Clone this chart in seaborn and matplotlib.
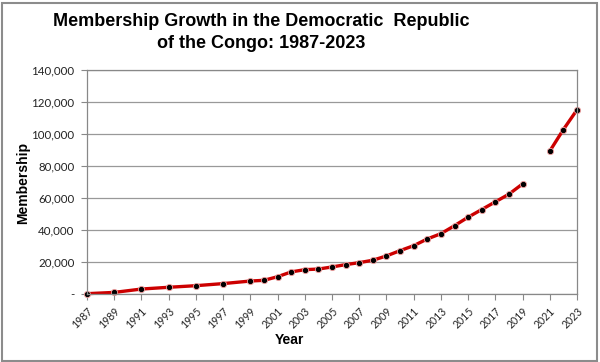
import numpy as np
import pandas as pd
import matplotlib
matplotlib.use("Agg")
import matplotlib.pyplot as plt
from matplotlib.patches import Rectangle
from matplotlib.ticker import FuncFormatter
import seaborn as sns

years = [1987, 1989, 1991, 1993, 1995, 1997, 1999, 2000, 2001, 2002, 2003,
         2004, 2005, 2006, 2007, 2008, 2009, 2010, 2011, 2012, 2013, 2014,
         2015, 2016, 2017, 2018, 2019, 2021, 2022, 2023]
members = [200, 1000, 3100, 4200, 5200, 6500, 8100, 8550, 10800, 13800, 15200,
           15600, 16900, 18350, 19600, 21100, 23800, 27100, 30200, 34400, 37700,
           42700, 48000, 52800, 57600, 62400, 68800, 89300, 102800, 115100]
segment = [0] * 27 + [1] * 3
xticks = list(range(1987, 2024, 2))
yticks = list(range(0, 140001, 20000))

df = pd.DataFrame({"Year": years, "Membership": members, "seg": segment})

sns.set_theme(style="white")
plt.rcParams['font.family'] = ['Liberation Sans', 'DejaVu Sans']

fig = plt.figure(figsize=(6, 3.62), dpi=100)
W, H = 600, 362
ax = fig.add_axes([87 / W, 1 - 294 / H, (577 - 87) / W, (294 - 70) / H])

sns.lineplot(data=df, x="Year", y="Membership", units="seg", estimator=None,
             color="#cc0000", linewidth=2.4, marker="o", markersize=4.5,
             markerfacecolor="black", markeredgecolor="#f4a0a0",
             markeredgewidth=0.6, ax=ax, legend=False, clip_on=False)

ax.set_xlim(1987, 2023)
ax.set_ylim(0, 140000)
ax.set_xticks(xticks)
ax.set_yticks(yticks)
ax.set_xticklabels([str(y) for y in xticks], rotation=45, ha="right",
                   rotation_mode="anchor", fontsize=7.6, family=['Lato', 'DejaVu Sans'])
ax.yaxis.set_major_formatter(FuncFormatter(lambda v, p: "-" if v == 0 else f"{int(v):,}"))
for lab in ax.get_yticklabels():
    lab.set_fontsize(8.3)
    lab.set_family(['Lato', 'DejaVu Sans'])
ax.tick_params(axis="both", which="major", direction="out", length=4, width=0.8,
               color="#888888", colors="#222222", bottom=True, left=True)
ax.tick_params(axis="x", pad=4)
ax.tick_params(axis="y", pad=5)
ax.grid(axis="y", color="#999999", linewidth=0.9)
ax.grid(axis="x", visible=False)
for s in ["left", "right", "bottom", "top"]:
    ax.spines[s].set_visible(True)
    ax.spines[s].set_color("#888888")
    ax.spines[s].set_linewidth(0.9)
ax.set_xlabel("")
ax.set_ylabel("")

fig.text(23 / W, 1 - 183 / H, "Membership", rotation=90, ha="center", va="center",
         fontsize=10, fontweight="bold", color="black")
fig.text(289 / W, 1 - 340 / H, "Year", ha="center", va="center",
         fontsize=10, fontweight="bold", color="black")
fig.text(261 / W, 1 - 21 / H, "Membership Growth in the Democratic  Republic",
         ha="center", va="center", fontsize=13, fontweight="bold", color="black")
fig.text(261 / W, 1 - 43 / H, "of the Congo: 1987-2023",
         ha="center", va="center", fontsize=13, fontweight="bold", color="black")

fig.patches.append(Rectangle((1.5 / W, 1.5 / H), 595 / W, 358 / H, transform=fig.transFigure,
                             fill=False, edgecolor="#8c8c8c", linewidth=1.5))

fig.savefig("out.png", dpi=100)
